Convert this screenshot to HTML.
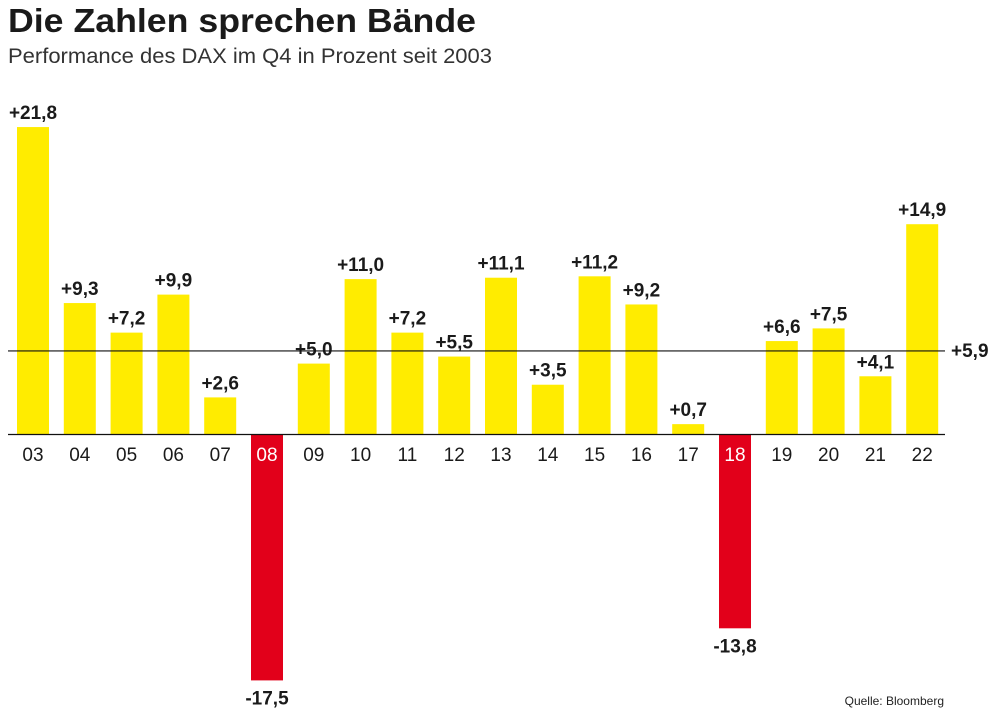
<!DOCTYPE html>
<html><head><meta charset="utf-8"><style>
body{margin:0;background:#fff;width:1000px;height:716px;overflow:hidden}
svg{display:block}
.t{font-family:"Liberation Sans",sans-serif}
.v{font-family:"Liberation Sans Narrow","Liberation Sans",sans-serif;font-weight:bold;font-size:19px;fill:#1a1a1a}
</style></head><body>
<svg id="chart" width="1000" height="716">
<text class="t" x="8" y="32" font-size="33" font-weight="bold" fill="#1a1a1a" textLength="468" lengthAdjust="spacingAndGlyphs">Die Zahlen sprechen Bände</text>
<text class="t" x="8" y="63" font-size="21.5" fill="#333" textLength="484" lengthAdjust="spacingAndGlyphs">Performance des DAX im Q4 in Prozent seit 2003</text>
<text class="t" x="944" y="705" font-size="12" fill="#222" text-anchor="end">Quelle: Bloomberg</text>
<g id="bars"></g>
</svg>
<script>
const categories=["03","04","05","06","07","08","09","10","11","12","13","14","15","16","17","18","19","20","21","22"];
const values=[21.8,9.3,7.2,9.9,2.6,-17.5,5.0,11.0,7.2,5.5,11.1,3.5,11.2,9.2,0.7,-13.8,6.6,7.5,4.1,14.9];
const average=[5.9];
const NS="http://www.w3.org/2000/svg";
const g=document.getElementById('bars');
const y0=434, k=14.08, x0=33, step=46.8, bw=32;
const yS=v=>y0-v*k, xS=i=>x0+i*step;
const fmt=v=>(v>0?"+":"")+v.toFixed(1).replace(".",",");
function mk(t,a){const e=document.createElementNS(NS,t);for(const n in a)e.setAttribute(n,a[n]);g.appendChild(e);return e;}
values.forEach((v,i)=>{
  const cx=xS(i);
  const r=mk('rect',{x:cx-bw/2,y:Math.min(yS(v),y0),width:bw,height:Math.abs(yS(v)-y0),fill:v<0?'#e2001a':'#ffec00'});
  
  
  const l=mk('text',{x:cx,y:v<0?yS(v)+24:yS(v)-8,'text-anchor':'middle',class:'v'});
  l.textContent=fmt(v);
  
  
  const c=mk('text',{x:cx,y:461,'text-anchor':'middle',class:'t','font-size':'19',fill:v<0?'#fff':'#1a1a1a'});
  c.textContent=categories[i];
  
  
});
const ax=mk('line',{x1:8,x2:945,y1:y0+0.5,y2:y0+0.5,stroke:'#111','stroke-width':1.2});


const av=mk('line',{x1:8,x2:945,y1:yS(average[0]),y2:yS(average[0]),stroke:'#111','stroke-width':1.2});


const at=mk('text',{x:951,y:yS(average[0])+6,class:'v'});
at.textContent=fmt(average[0]);


</script>
</body></html>
